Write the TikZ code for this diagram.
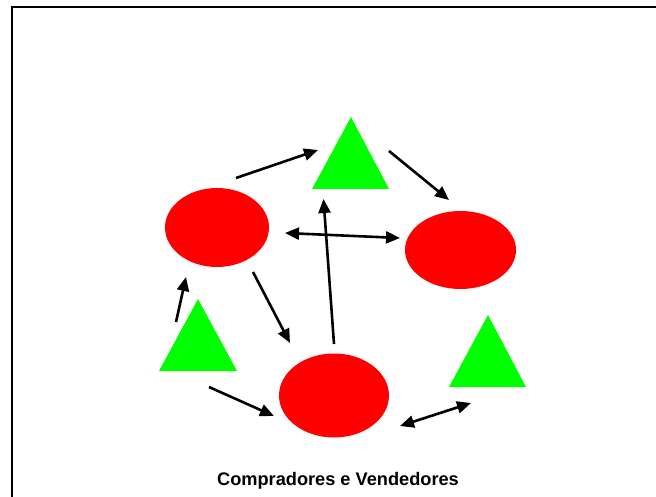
\documentclass[tikz,border=0pt]{standalone}
\usepackage{fontspec}
\setmainfont{Liberation Sans}
\usetikzlibrary{shapes.geometric,arrows.meta}
\definecolor{buyer}{RGB}{255,0,0}
\definecolor{seller}{RGB}{0,255,0}
\tikzset{
  agent/.style={ellipse, fill=buyer, inner sep=0pt},
  seller/.style={fill=seller},
  link/.style={line width=2.6pt, -{Triangle[length=14pt,width=12pt]}},
  twoway/.style={line width=2.6pt, {Triangle[length=14pt,width=12pt]}-{Triangle[length=14pt,width=12pt]}},
  frame/.style={line width=2pt},
}
\begin{document}
\begin{tikzpicture}[x=1pt,y=-1pt]
\useasboundingbox (0,0) rectangle (656,497);
% outer frame (left and top edges)
\draw[frame] (12,497) -- (12,7) -- (656,7);

% buyers
\node[agent, minimum width=104pt, minimum height=79pt] (b1) at (217,227.5) {};
\node[agent, minimum width=111pt, minimum height=78pt] (b2) at (460.5,250) {};
\node[agent, minimum width=110pt, minimum height=84pt] (b3) at (334,395.5) {};

% sellers
\fill[seller] (312,189) -- (351,117) coordinate (s1) -- (389,189) -- cycle;
\fill[seller] (159,371) -- (198,299) coordinate (s2) -- (237,371) -- cycle;
\fill[seller] (449,387) -- (488,315) coordinate (s3) -- (526,387) -- cycle;

% connector end points
\coordinate (a1) at (236,178);   \coordinate (a1e) at (318,150);
\coordinate (a2) at (389,151);   \coordinate (a2e) at (449,200);
\coordinate (a3) at (285,233);   \coordinate (a3e) at (400,238);
\coordinate (a4) at (334,344);   \coordinate (a4e) at (323.5,199);
\coordinate (a5) at (253,272);   \coordinate (a5e) at (290,343);
\coordinate (a6) at (176,322);   \coordinate (a6e) at (186,277);
\coordinate (a7) at (209,387);   \coordinate (a7e) at (274,416);
\coordinate (a8) at (400,426);   \coordinate (a8e) at (471,403);

\draw[link] (a1) -- (a1e);
\draw[link] (a2) -- (a2e);
\draw[twoway] (a3) -- (a3e);
\draw[link] (a4) -- (a4e);
\draw[link] (a5) -- (a5e);
\draw[link] (a6) -- (a6e);
\draw[link] (a7) -- (a7e);
\draw[twoway] (a8) -- (a8e);

% caption
\node[anchor=base, font=\bfseries\fontsize{18.2}{21}\selectfont, inner sep=0pt] (cap) at (338,485.3) {Compradores e Vendedores};
\end{tikzpicture}
\end{document}
